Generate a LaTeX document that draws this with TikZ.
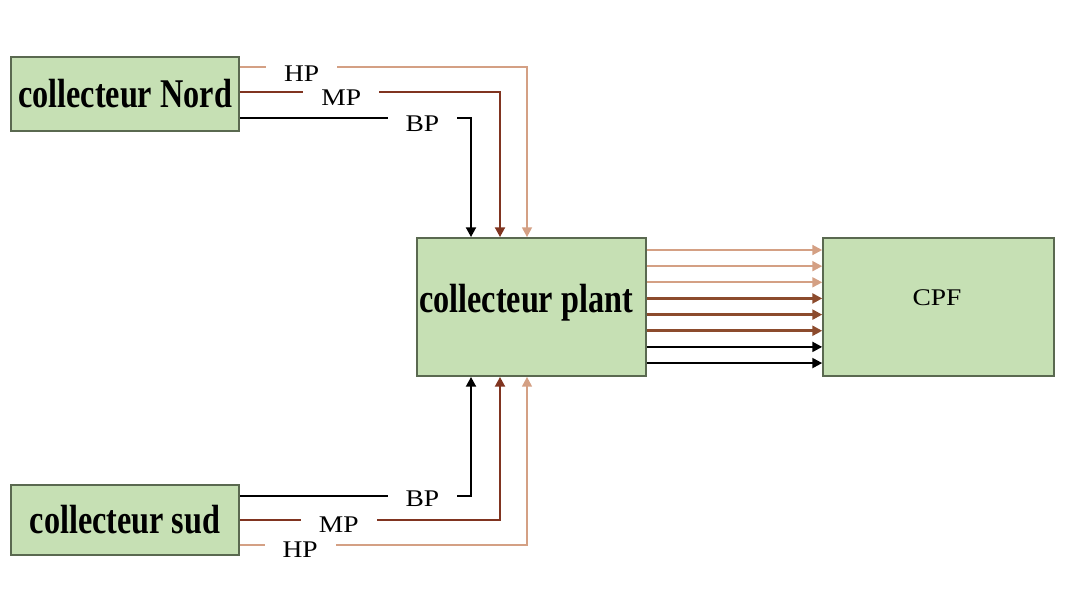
\documentclass[tikz,border=0pt]{standalone}
\usepackage{fontspec}
\usepackage{tikz}
\usetikzlibrary{arrows.meta}
\setmainfont{Liberation Serif}
\newfontfamily\condfont[FakeStretch=0.79]{Liberation Serif}
\newfontfamily\lblfont[FakeStretch=1.15]{Liberation Serif}
\definecolor{boxfill}{RGB}{198,224,180}
\definecolor{boxline}{RGB}{90,105,80}
\definecolor{hpcol}{RGB}{212,160,132}
\definecolor{mpcol}{RGB}{128,52,32}
\definecolor{flowmid}{RGB}{140,75,45}

\begin{document}
\begin{tikzpicture}[x=0.025cm, y=-0.025cm,
    collbox/.style={rectangle, draw=boxline, line width=1.2pt, fill=boxfill, inner sep=0pt},
    bigtext/.style={font=\condfont\bfseries\fontsize{29}{34}\selectfont},
    lbl/.style={fill=white, inner xsep=0.45cm, inner ysep=1pt, font=\lblfont\fontsize{17}{20}\selectfont},
    tip/.style={-{Triangle[length=7pt, width=7pt]}},
    hpline/.style={tip, draw=hpcol, line width=1.5pt},
    mpline/.style={tip, draw=mpcol, line width=1.8pt},
    bpline/.style={tip, draw=black, line width=1.8pt}]
    \useasboundingbox (0,0) rectangle (1070,593);

    \node (nord) [collbox, minimum width=5.7cm, minimum height=1.85cm, bigtext] at (125,94) {collecteur Nord};
    \node (sud) [collbox, minimum width=5.7cm, minimum height=1.75cm, bigtext] at (125,520) {collecteur sud};
    \node (plant) [collbox, minimum width=5.72cm, minimum height=3.45cm] at (531.5,307) {};
    \node (plantlbl) [bigtext] at (526,303) {collecteur plant};
    \node (cpf) [collbox, minimum width=5.77cm, minimum height=3.45cm] at (938.5,307) {};
    \node (cpflbl) [font=\lblfont\fontsize{17}{20}\selectfont] at (937,298) {CPF};

    % corners of the supply lines
    \coordinate (hpN) at (527,67);
    \coordinate (mpN) at (500,92);
    \coordinate (bpN) at (471,118);
    \coordinate (bpS) at (471,496);
    \coordinate (mpS) at (500,520);
    \coordinate (hpS) at (527,545);

    % collecteur Nord
    \draw [hpline] (nord.east |- hpN) -- node [lbl, pos=0.215, yshift=-5pt] {HP} (hpN) -- (plant.north -| hpN);
    \draw [mpline] (nord.east |- mpN) -- node [lbl, pos=0.39, yshift=-4pt] {MP} (mpN) -- (plant.north -| mpN);
    \draw [bpline] (nord.east |- bpN) -- node [lbl, pos=0.79, yshift=-4pt] {BP} (bpN) -- (plant.north -| bpN);

    % collecteur sud
    \draw [bpline] (sud.east |- bpS) -- node [lbl, pos=0.79, yshift=-2pt] {BP} (bpS) -- (plant.south -| bpS);
    \draw [mpline] (sud.east |- mpS) -- node [lbl, pos=0.38, yshift=-3pt] {MP} (mpS) -- (plant.south -| mpS);
    \draw [hpline] (sud.east |- hpS) -- node [lbl, pos=0.21, yshift=-3pt] {HP} (hpS) -- (plant.south -| hpS);

    % vers CPF
    \foreach \i/\c/\w in {0/hpcol/1.5pt, 1/hpcol/1.5pt, 2/hpcol/1.5pt, 3/flowmid/1.8pt,
                          4/flowmid/1.8pt, 5/flowmid/1.8pt, 6/black/1.6pt, 7/black/1.6pt} {
        \pgfmathsetmacro{\yy}{250+16.15*\i}
        \draw [tip, draw=\c, line width=\w] (plant.east |- 0,\yy) -- (cpf.west |- 0,\yy);
    }
\end{tikzpicture}
\end{document}
